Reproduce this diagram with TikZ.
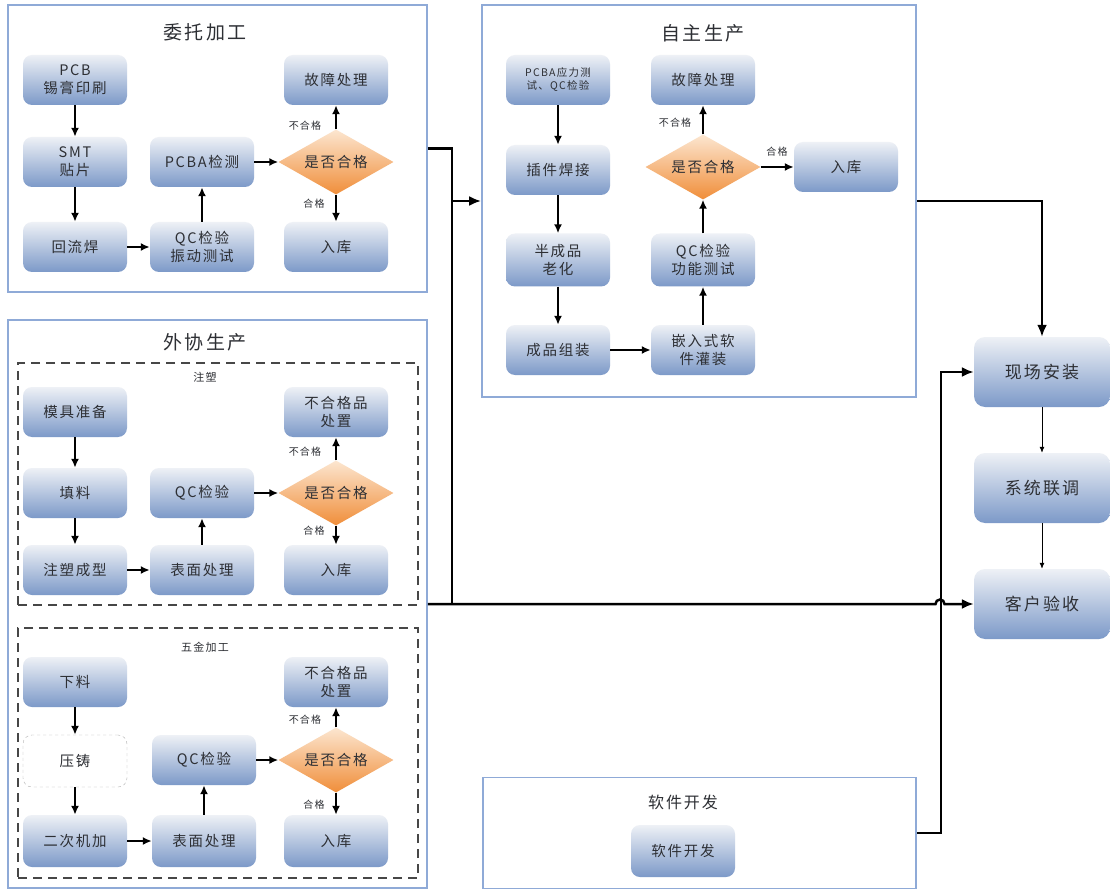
\documentclass[tikz,border=0pt]{standalone}
\usepackage{fontspec}
\setmainfont{Noto Sans CJK SC}[LetterSpace=12]
\usetikzlibrary{shapes.geometric,arrows.meta,calc}
\definecolor{panelblue}{RGB}{143,170,215}
\definecolor{boxtop}{RGB}{238,241,246}
\definecolor{boxbot}{RGB}{124,153,200}
\definecolor{dtop}{RGB}{252,230,208}
\definecolor{dbot}{RGB}{240,142,58}
\definecolor{txt}{RGB}{45,47,52}
\begin{document}
\begin{tikzpicture}[x=1pt,y=-1pt,
 panel/.style={draw=panelblue,line width=1.8pt,fill=white,rectangle,inner sep=0},
 dbox/.style={draw=black!72,line width=1.8pt,dash pattern=on 9pt off 6pt,rectangle,inner sep=0},
 pbox/.style={rectangle,rounded corners=9pt,top color=boxtop,bottom color=boxbot,minimum width=104pt,minimum height=50pt,align=center,text=txt,font=\fontsize{14.5}{18}\selectfont,inner sep=2pt},
 wbox/.style={rectangle,rounded corners=9pt,draw=black!30,dashed,fill=white,minimum width=104pt,minimum height=52pt,align=center,text=txt,font=\fontsize{14.5}{18}\selectfont},
 dia/.style={diamond,top color=dtop,bottom color=dbot,minimum width=115pt,minimum height=65pt,aspect=1.77,inner sep=0,text=txt,font=\fontsize{14.5}{18}\selectfont},
 rbox/.style={pbox,minimum width=136pt,minimum height=70pt,rounded corners=11pt,font=\fontsize{17}{20}\selectfont},
 ttl/.style={text=txt,font=\fontsize{19}{22}\selectfont},
 sttl/.style={text=txt,font=\fontsize{11}{13}\selectfont},
 lbl/.style={text=txt,font=\fontsize{10}{12}\selectfont},
 arr/.style={line width=1.8pt,-{Latex[length=9pt,width=8pt]}},
 thin/.style={line width=0.8pt,-{Latex[length=6pt,width=5pt]}},
 conn/.style={line width=2.5pt},
 carr/.style={line width=2.5pt,-{Latex[length=12pt,width=10pt]}}]
\useasboundingbox[fill=white] (0,0) rectangle (1110,890);

% panels
\node[panel,minimum width=419pt,minimum height=287pt] (PA) at (217.5,148.5) {};
\node[panel,minimum width=434pt,minimum height=392pt] (PB) at (699,201) {};
\node[panel,minimum width=419pt,minimum height=568pt] (PC) at (217.5,604) {};
\node[panel,minimum width=433pt,minimum height=111pt] (PD) at (699.5,833) {};
\node[dbox,minimum width=400pt,minimum height=242pt] (C1) at (218,484) {};
\node[dbox,minimum width=400pt,minimum height=250pt] (C2) at (218,753) {};

% titles
\node[ttl] (tA) at (205,32) {委托加工};
\node[ttl] (tB) at (703,33) {自主生产};
\node[ttl] (tC) at (205,342) {外协生产};
\node[sttl] (tC1) at (205,377) {注塑};
\node[sttl] (tC2) at (205,647) {五金加工};
\node[ttl,font=\fontsize{16}{19}\selectfont] (tD) at (683,802) {软件开发};

% panel A
\node[pbox] (a1) at (75,80) {PCB\\锡膏印刷};
\node[pbox] (a2) at (75,162) {SMT\\贴片};
\node[pbox] (a3) at (75,247) {回流焊};
\node[pbox] (a4) at (202,162) {PCBA检测};
\node[pbox] (a5) at (202,247) {QC检验\\振动测试};
\node[dia] (ad) at (336,162) {是否合格};
\node[pbox] (a6) at (336,80) {故障处理};
\node[pbox] (a7) at (336,247) {入库};
\draw[arr] (a1.south) -- (a2.north);
\draw[arr] (a2.south) -- (a3.north);
\draw[arr] (a3.east) -- (a5.west);
\draw[arr] (a5.north) -- (a4.south);
\draw[arr] (a4.east) -- (ad.west);
\draw[arr] (ad.north) -- (a6.south);
\draw[arr] (ad.south) -- (a7.north);
\node[lbl] (la1) at (305,126) {不合格};
\node[lbl] (la2) at (314,204) {合格};

% panel B
\node[pbox,font=\fontsize{10.5}{13}\selectfont] (b1) at (558,80) {PCBA应力测\\试、QC检验};
\node[pbox] (b2) at (558,170) {插件焊接};
\node[pbox,minimum height=53pt] (b3) at (558,260) {半成品\\老化};
\node[pbox] (b4) at (558,350) {成品组装};
\node[pbox] (b5) at (703,80) {故障处理};
\node[dia] (bd) at (703,167) {是否合格};
\node[pbox] (b6) at (846,167) {入库};
\node[pbox,minimum height=53pt] (b7) at (703,260) {QC检验\\功能测试};
\node[pbox] (b8) at (703,350) {嵌入式软\\件灌装};
\draw[arr] (b1.south) -- (b2.north);
\draw[arr] (b2.south) -- (b3.north);
\draw[arr] (b3.south) -- (b4.north);
\draw[arr] (b4.east) -- (b8.west);
\draw[arr] (b8.north) -- (b7.south);
\draw[arr] (b7.north) -- (bd.south);
\draw[arr] (bd.north) -- (b5.south);
\draw[arr] (bd.east) -- (b6.west);
\node[lbl] (lb1) at (675,123) {不合格};
\node[lbl] (lb2) at (777,152) {合格};

% panel C, part 1
\node[pbox] (c1) at (75,412) {模具准备};
\node[pbox] (c2) at (75,493) {填料};
\node[pbox] (c3) at (75,570) {注塑成型};
\node[pbox] (c4) at (202,493) {QC检验};
\node[pbox] (c5) at (202,570) {表面处理};
\node[dia] (cd) at (336,493) {是否合格};
\node[pbox] (c6) at (336,412) {不合格品\\处置};
\node[pbox] (c7) at (336,570) {入库};
\draw[arr] (c1.south) -- (c2.north);
\draw[arr] (c2.south) -- (c3.north);
\draw[arr] (c3.east) -- (c5.west);
\draw[arr] (c5.north) -- (c4.south);
\draw[arr] (c4.east) -- (cd.west);
\draw[arr] (cd.north) -- (c6.south);
\draw[arr] (cd.south) -- (c7.north);
\node[lbl] (lc1) at (305,452) {不合格};
\node[lbl] (lc2) at (314,531) {合格};

% panel C, part 2
\node[pbox] (d1) at (75,682) {下料};
\node[wbox] (d2) at (75,761) {压铸};
\node[pbox,minimum height=52pt] (d3) at (75,841) {二次机加};
\node[pbox] (d4) at (204,760) {QC检验};
\node[pbox,minimum height=52pt] (d5) at (204,841) {表面处理};
\node[dia] (dd) at (336,760) {是否合格};
\node[pbox] (d6) at (336,682) {不合格品\\处置};
\node[pbox,minimum height=52pt] (d7) at (336,841) {入库};
\draw[arr] (d1.south) -- (d2.north);
\draw[arr] (d2.south) -- (d3.north);
\draw[arr] (d3.east) -- (d5.west);
\draw[arr] (d5.north) -- (d4.south);
\draw[arr] (d4.east) -- (dd.west);
\draw[arr] (dd.north) -- (d6.south);
\draw[arr] (dd.south) -- (d7.north);
\node[lbl] (ld1) at (305,720) {不合格};
\node[lbl] (ld2) at (314,805) {合格};

% panel D
\node[pbox,minimum height=52pt] (e1) at (683,851) {软件开发};

% right column
\node[rbox] (r1) at (1042,372) {现场安装};
\node[rbox] (r2) at (1042,488) {系统联调};
\node[rbox] (r3) at (1042,604) {客户验收};
\draw[thin] (r1.south) -- (r2.north);
\draw[thin] (r2.south) -- (r3.north);

% main connectors
\coordinate (jt) at (452,201);
\coordinate (jd) at (452,604);
\coordinate (hp) at (940,604);
\draw[conn] (PA.east) -| (jd);
\draw[carr] (jt) -- (PB.west);
\draw[carr] (PB.east) -| (r1.north);
\draw[carr] (PD.east) -- ++(24,0) |- (r1.west);
\draw[carr] (PC.east) -- ($(hp)+(-4.5,0)$) arc[start angle=180,end angle=360,radius=4.5] -- (r3.west);
\end{tikzpicture}
\end{document}
